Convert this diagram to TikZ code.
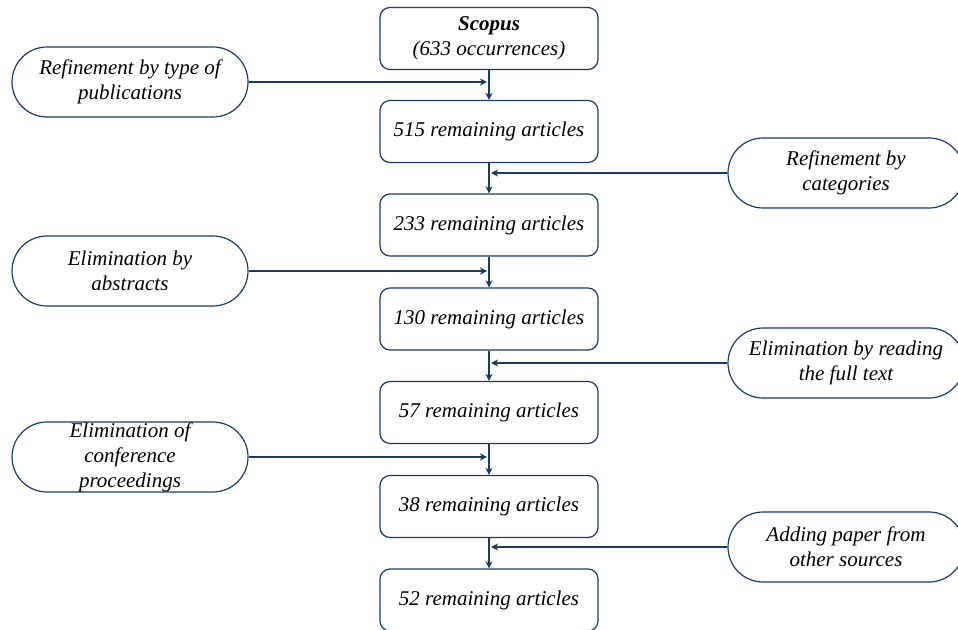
\documentclass[tikz,border=0pt]{standalone}
\usepackage{fontspec}
\setmainfont{Liberation Serif}
\usetikzlibrary{shapes.misc,arrows.meta}
\definecolor{navy}{HTML}{1F3A5A}
\tikzset{
	stage/.style={draw=navy, line width=0.6pt, rounded corners=5pt, minimum width=109pt, minimum height=31pt, inner sep=0pt, align=center, font=\itshape\fontsize{10.5}{12.5}\selectfont},
	filter/.style={draw=navy, line width=0.6pt, rounded rectangle, minimum width=118pt, minimum height=35pt, inner sep=0pt, align=center, font=\itshape\fontsize{10.5}{12.5}\selectfont},
	flow/.style={draw=navy, line width=0.6pt, -{Stealth[length=3.5pt,width=3.5pt,inset=1pt]}},
}

\begin{document}
\begin{tikzpicture}[x=0.5pt, y=-0.5pt]
			%%%%% START %%%%%
			
			\useasboundingbox (0, 0) rectangle (958, 630);
			\clip (0, 0) rectangle (958, 630);
			
			\node[stage] (scopus) at (489, 38.5) {\textbf{Scopus}\\(633 occurrences)};
			\node[stage] (a515) at (489, 131.5) {515 remaining articles};
			\node[stage] (a233) at (489, 225) {233 remaining articles};
			\node[stage] (a130) at (489, 319) {130 remaining articles};
			\node[stage] (a57) at (489, 412.5) {57 remaining articles};
			\node[stage] (a38) at (489, 506.5) {38 remaining articles};
			\node[stage] (a52) at (489, 600) {52 remaining articles};
			
			\node[filter] (type) at (130, 82) {Refinement by type of\\publications};
			\node[filter] (abstr) at (130, 271) {Elimination by\\abstracts};
			\node[filter] (conf) at (130, 457) {Elimination of\\conference\\proceedings};
			
			\node[filter] (categ) at (846, 173) {Refinement by\\categories};
			\node[filter] (full) at (846, 363) {Elimination by reading\\the full text};
			\node[filter] (other) at (846, 547) {Adding paper from\\other sources};
			
			\draw[flow] (scopus) -- (a515);
			\draw[flow] (a515) -- (a233);
			\draw[flow] (a233) -- (a130);
			\draw[flow] (a130) -- (a57);
			\draw[flow] (a57) -- (a38);
			\draw[flow] (a38) -- (a52);
			
			\draw[flow, shorten >=1pt] (type.east) -- (type.east -| scopus.south);
			\draw[flow, shorten >=1pt] (abstr.east) -- (abstr.east -| scopus.south);
			\draw[flow, shorten >=1pt] (conf.east) -- (conf.east -| scopus.south);
			
			\draw[flow, shorten >=1pt] (categ.west) -- (categ.west -| scopus.south);
			\draw[flow, shorten >=1pt] (full.west) -- (full.west -| scopus.south);
			\draw[flow, shorten >=1pt] (other.west) -- (other.west -| scopus.south);
			
			%%%%% END %%%%%
\end{tikzpicture}
\end{document}
